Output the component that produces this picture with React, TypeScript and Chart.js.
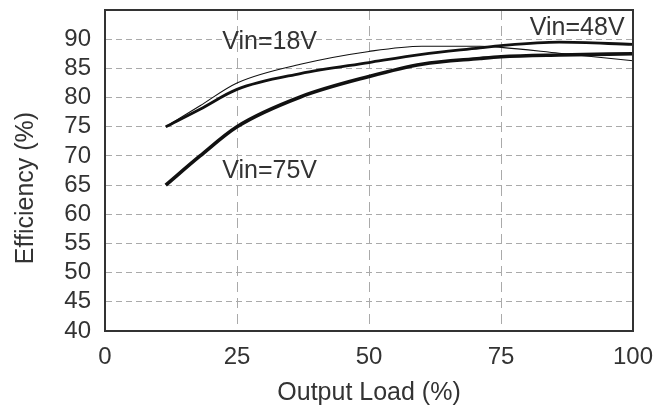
import React, { useEffect, useRef } from "react";
import { Chart, registerables } from "chart.js";

Chart.register(...registerables);

const loads = [11.5, 18, 25, 37, 50, 60, 71, 75, 86, 100];
const vin18 = [75.0, 78.6, 82.5, 85.7, 87.9, 88.8, 88.8, 88.6, 87.6, 86.3];
const vin48 = [75.0, 78.0, 81.4, 84.1, 86.0, 87.4, 88.5, 88.9, 89.5, 89.1];
const vin75 = [65.0, 70.0, 75.0, 80.1, 83.6, 85.7, 86.7, 87.0, 87.3, 87.5];
const xTicks = [0, 25, 50, 75, 100];
const yTicks = [40, 45, 50, 55, 60, 65, 70, 75, 80, 85, 90];
const seriesLabels = ["Vin=18V", "Vin=48V", "Vin=75V"];
const xTitle = "Output Load (%)";
const yTitle = "Efficiency (%)";

const FONT = "'Liberation Sans', Arial, sans-serif";
const TEXT = "#333";

const toPts = (ys: number[]) => loads.map((x, i) => ({ x, y: ys[i] }));

const decorPlugin = {
  id: "decor",
  afterDatasetsDraw(chart: any) {
    const { ctx, chartArea: a, scales } = chart;
    const xs = scales.x;
    const ys = scales.y;
    ctx.save();
    ctx.strokeStyle = "#333";
    ctx.lineWidth = 2;
    ctx.strokeRect(a.left, a.top, a.right - a.left, a.bottom - a.top);
    ctx.fillStyle = TEXT;
    ctx.font = `25px ${FONT}`;
    ctx.textBaseline = "alphabetic";
    ctx.textAlign = "left";
    ctx.fillText(seriesLabels[0], xs.getPixelForValue(22.2), ys.getPixelForValue(88.4));
    ctx.fillText(seriesLabels[2], xs.getPixelForValue(22.2), ys.getPixelForValue(66.2));
    ctx.textAlign = "right";
    ctx.fillText(seriesLabels[1], xs.getPixelForValue(98.4), ys.getPixelForValue(90.8));
    ctx.textAlign = "center";
    ctx.textBaseline = "middle";
    ctx.fillText(xTitle, (a.left + a.right) / 2, 393);
    ctx.translate(26, 188);
    ctx.rotate(-Math.PI / 2);
    ctx.fillText(yTitle, 0, 0);
    ctx.restore();
  },
};

export default function App() {
  const ref = useRef<HTMLCanvasElement | null>(null);
  useEffect(() => {
    if (!ref.current) return;
    const chart = new Chart(ref.current, {
      type: "line",
      data: {
        datasets: [
          { label: seriesLabels[0], data: toPts(vin18), borderColor: "#111", borderWidth: 1.1 },
          { label: seriesLabels[1], data: toPts(vin48), borderColor: "#111", borderWidth: 2.8 },
          { label: seriesLabels[2], data: toPts(vin75), borderColor: "#111", borderWidth: 3.6 },
        ] as any,
      },
      options: {
        animation: false,
        responsive: true,
        maintainAspectRatio: false,
        layout: { padding: { top: 10, right: 35, bottom: 0, left: 0 } },
        elements: {
          point: { radius: 0 },
          line: { tension: 0.4, cubicInterpolationMode: "monotone", fill: false },
        },
        plugins: { legend: { display: false }, tooltip: { enabled: false } },
        scales: {
          x: {
            type: "linear",
            min: 0,
            max: 100,
            afterFit: (s: any) => { s.height = 78; s.paddingLeft = 0; s.paddingRight = 0; },
            afterBuildTicks: (s: any) => { s.ticks = xTicks.map((v) => ({ value: v })); },
            ticks: { color: TEXT, font: { family: FONT, size: 24 }, padding: 12, maxRotation: 0, autoSkip: false },
            grid: { color: "#aaa", lineWidth: 1, drawTicks: false } as any,
            border: { display: true, color: "#333", width: 2, dash: [10, 6] } as any,
          },
          y: {
            type: "linear",
            min: 40,
            max: 95,
            afterFit: (s: any) => { s.width = 105; s.paddingTop = 0; s.paddingBottom = 0; },
            afterBuildTicks: (s: any) => { s.ticks = yTicks.map((v) => ({ value: v })); },
            ticks: { color: TEXT, font: { family: FONT, size: 24 }, padding: 14, autoSkip: false },
            grid: { color: "#aaa", lineWidth: 1, drawTicks: false } as any,
            border: { display: true, color: "#333", width: 2, dash: [6, 4] } as any,
          },
        },
      },
      plugins: [decorPlugin],
    });
    return () => chart.destroy();
  }, []);
  return (
    <div style={{ position: "fixed", left: 0, top: 0, width: 668, height: 409, background: "#fff" }}>
      <canvas ref={ref} />
    </div>
  );
}
